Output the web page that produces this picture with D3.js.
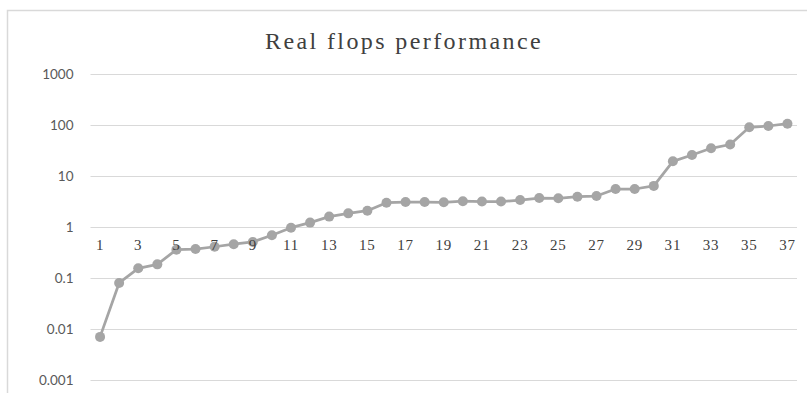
<!DOCTYPE html>
<html>
<head>
<meta charset="utf-8">
<script src="https://cdn.jsdelivr.net/npm/d3@7"></script>
<style>
  html, body { margin: 0; padding: 0; background: #fff; }
  svg { display: block; }
</style>
</head>
<body>
<svg id="chart" width="807" height="393"></svg>
<script>
// Run index (1..37) and measured real flops for each run
const categories = d3.range(1, 38);
const flops = [
  0.007, 0.08, 0.155, 0.185, 0.36, 0.37, 0.41, 0.46, 0.51, 0.69,
  0.97, 1.22, 1.6, 1.85, 2.09, 3.0, 3.09, 3.09, 3.05, 3.2,
  3.15, 3.15, 3.38, 3.7, 3.65, 3.93, 4.05, 5.56, 5.56, 6.4,
  19.4, 25.8, 34.9, 41.5, 90, 95.6, 106
];
const yTicks = [0.001, 0.01, 0.1, 1, 10, 100, 1000];
const yTickLabels = ["0.001", "0.01", "0.1", "1", "10", "100", "1000"];
const title = "Real flops performance";

const svg = d3.select("#chart");
const W = 807, H = 393;

// Chart frame
svg.append("rect")
  .attr("x", 7.5).attr("y", 10.5)
  .attr("width", W + 10).attr("height", H + 10)
  .attr("fill", "#fff")
  .attr("stroke", "#d9d9d9")
  .attr("stroke-width", 1.5);

const plot = { left: 90.5, right: 797, top: 74, bottom: 380 };

const x = d3.scaleBand()
  .domain(categories)
  .range([plot.left, plot.right]);

const y = d3.scaleLog()
  .domain([0.001, 1000])
  .range([plot.bottom, plot.top]);

// Title
svg.append("text")
  .attr("x", 404).attr("y", 49)
  .attr("text-anchor", "middle")
  .attr("font-family", "'Liberation Serif', 'DejaVu Serif', serif")
  .attr("font-size", 24)
  .attr("letter-spacing", 2.4)
  .attr("fill", "#404040")
  .text(title);

// Horizontal gridlines
svg.append("g")
  .selectAll("line")
  .data(yTicks)
  .join("line")
  .attr("x1", plot.left).attr("x2", plot.right)
  .attr("y1", d => Math.round(y(d)) + 0.5)
  .attr("y2", d => Math.round(y(d)) + 0.5)
  .attr("stroke", "#d9d9d9")
  .attr("stroke-width", 1);

// Y axis labels
const yAxis = d3.axisLeft(y)
  .tickValues(yTicks)
  .tickFormat((d, i) => yTickLabels[i])
  .tickSize(0)
  .tickPadding(0);
const yG = svg.append("g")
  .attr("transform", `translate(${plot.left - 17},0)`)
  .call(yAxis);
yG.select(".domain").remove();
yG.selectAll("text")
  .attr("font-family", "Lato, 'Open Sans', sans-serif")
  .attr("font-size", 13.5)
  .attr("fill", "#595959")
  .attr("dy", "0.35em");

// Series line and markers
const cx = d => x(d) + x.bandwidth() / 2;
const line = d3.line()
  .x((d, i) => cx(categories[i]))
  .y(d => y(d));

svg.append("path")
  .datum(flops)
  .attr("d", line)
  .attr("fill", "none")
  .attr("stroke", "#a5a5a5")
  .attr("stroke-width", 2.75)
  .attr("stroke-linejoin", "round");

svg.append("g")
  .selectAll("circle")
  .data(flops)
  .join("circle")
  .attr("cx", (d, i) => cx(categories[i]))
  .attr("cy", d => y(d))
  .attr("r", 5)
  .attr("fill", "#a5a5a5");

// Category axis crossing at 1, labels on odd runs
const xAxis = d3.axisBottom(x)
  .tickValues(categories.filter(c => c % 2 === 1))
  .tickSize(0)
  .tickPadding(0);
const xG = svg.append("g")
  .attr("transform", `translate(0,${y(1) + 12})`)
  .call(xAxis);
xG.select(".domain").remove();
xG.selectAll("text")
  .attr("font-family", "'Liberation Serif', 'DejaVu Serif', serif")
  .attr("font-size", 15)
  .attr("letter-spacing", 0.8)
  .attr("fill", "#404040");
</script>
</body>
</html>
